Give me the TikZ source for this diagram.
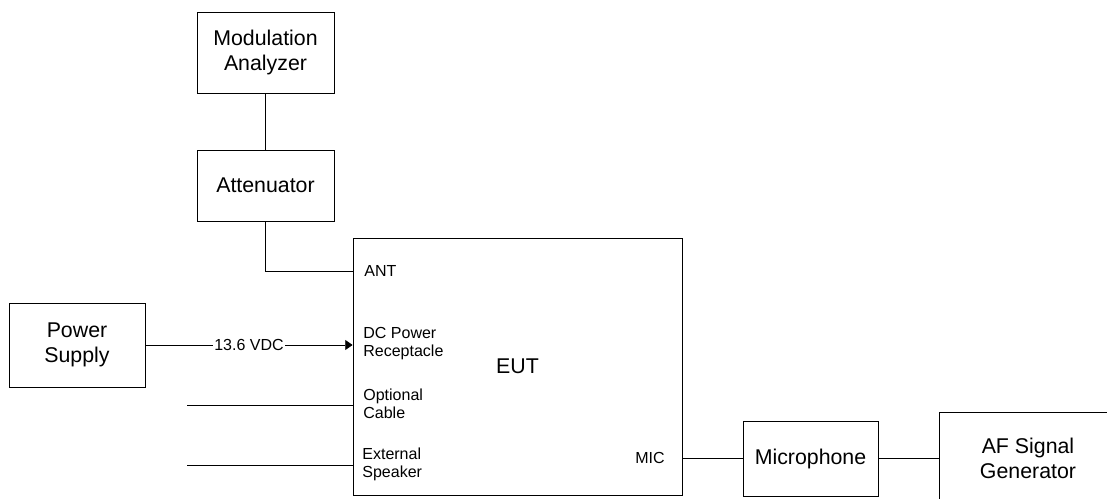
\documentclass[tikz,border=0pt]{standalone}
\usepackage{fontspec}
\setmainfont{Liberation Sans}
\usetikzlibrary{arrows.meta}

\begin{document}
\begin{tikzpicture}[x=0.75pt, y=-0.75pt, line width=0.6pt,
  box/.style={draw, rectangle, align=center, inner sep=0pt,
    font=\fontsize{16}{18.75}\selectfont},
  port/.style={anchor=west, align=left, inner sep=0pt,
    font=\fontsize{12}{13.5}\selectfont}]
  \clip (0,0) rectangle (1107,499);
  \node (modan) [box, minimum width=102.75pt, minimum height=60.75pt] at (265.5,52.5) {Modulation\\Analyzer};
  \node (atten) [box, minimum width=102.75pt, minimum height=53.25pt] at (265.5,185.5) {Attenuator};
  \node (eut) [box, minimum width=246.75pt, minimum height=192.75pt] at (517.5,366.5) {EUT};
  \node (psu) [box, minimum width=102pt, minimum height=63pt] at (77,345) {Power\\Supply};
  \node (micro) [box, minimum width=101.25pt, minimum height=56.25pt] at (810.5,458.5) {Microphone};
  \node (afgen) [box, minimum width=133.5pt, minimum height=69pt] at (1028,458) {AF Signal\\Generator};
  % ports on the EUT
  \node (ant) [port] at (364,271) {ANT};
  \node (dcin) [port] at (363,344) {DC Power\\Receptacle};
  \node (opt) [port] at (363,404) {Optional\\Cable};
  \node (spk) [port] at (362,464) {External\\Speaker};
  \node (micin) [port, anchor=east] at (665,458) {MIC};
  \coordinate (antin) at (353.5,271);
  \coordinate (optend) at (187,405);
  \coordinate (spkend) at (187,465);
  % connections
  \draw (modan.south) -- (atten.north);
  \draw (atten.south) |- (antin);
  \draw [-{Triangle[length=5.5pt,width=7.5pt]}] (psu.east) -- node [fill=white, inner sep=1pt,
    font=\fontsize{12}{13.5}\selectfont] {13.6 VDC} (psu.east -| eut.west);
  \draw (optend) -- (optend -| eut.west);
  \draw (spkend) -- (spkend -| eut.west);
  \draw (micro.west) -- (micro.west -| eut.east);
  \draw (micro.east) -- (micro.east -| afgen.west);
\end{tikzpicture}
\end{document}
